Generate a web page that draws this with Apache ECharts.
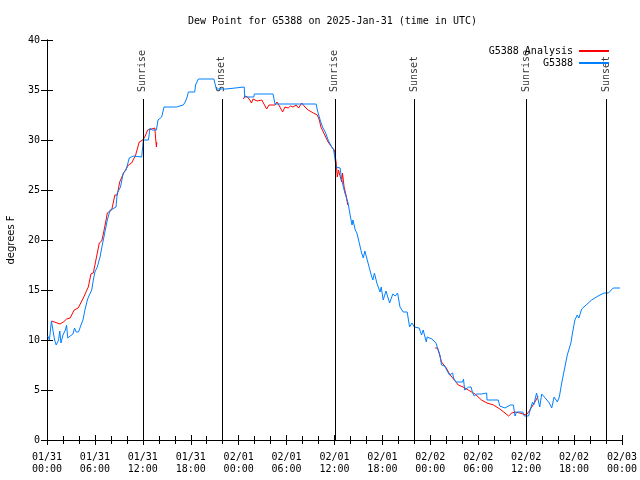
<!DOCTYPE html>
<html>
<head>
<meta charset="utf-8">
<script src="https://cdn.jsdelivr.net/npm/echarts@6/dist/echarts.min.js"></script>
<style>html,body{margin:0;padding:0;background:#fff}#c{width:640px;height:480px}</style>
</head>
<body>
<div id="c"></div>
<script>
// Time axis: hours since 2025-01-31 00:00 UTC
var xTickLabels = ["01/31\n00:00","01/31\n06:00","01/31\n12:00","01/31\n18:00",
  "02/01\n00:00","02/01\n06:00","02/01\n12:00","02/01\n18:00",
  "02/02\n00:00","02/02\n06:00","02/02\n12:00","02/02\n18:00","02/03\n00:00"];
var yTicks = [0,5,10,15,20,25,30,35,40];

// G5388 observations
var obsHours = [0.1,0.3,0.55,0.75,0.95,1.15,1.45,1.6,1.75,2.0,2.3,2.45,2.6,2.9,3.25,3.45,3.65,3.95,4.3,4.5,4.75,4.9,5.05,5.3,5.6,5.8,6.0,6.3,6.64,6.85,7.05,7.3,7.55,7.75,7.9,8.2,8.64,8.8,9.0,9.2,9.55,9.9,10.3,10.8,11.0,11.86,12.06,12.7,12.9,13.2,13.7,13.9,14.36,14.65,16.2,16.4,17.07,17.3,17.55,17.7,18.5,18.6,18.95,20.9,21.2,22.4,22.5,24.7,24.75,25.9,25.96,28.3,28.55,33.7,33.85,34.2,34.5,34.9,35.2,35.65,35.9,36.0,36.2,36.7,36.9,37.3,37.7,38.0,38.2,38.3,38.4,38.6,38.8,39.1,39.4,39.6,39.8,40.2,40.6,40.8,41.0,41.3,41.55,41.7,41.85,42.1,42.45,42.7,42.9,43.1,43.3,43.6,43.9,44.2,44.6,45.1,45.4,45.7,46.0,46.6,46.9,47.1,47.5,47.6,48.2,48.7,48.9,49.2,49.4,49.8,50.05,50.4,50.8,50.9,51.2,52.05,52.15,52.3,52.8,53.1,53.3,53.5,53.8,54.4,55.05,55.1,56.5,56.7,56.9,57.35,57.6,58.0,58.4,58.6,58.8,59.57,59.77,60.3,60.5,60.8,60.95,61.3,61.5,61.7,61.95,62.2,62.6,62.9,63.2,63.5,63.7,63.9,64.15,64.45,64.7,64.95,65.15,65.4,65.6,65.8,66.1,66.4,66.6,66.95,67.5,68.2,69.0,69.75,70.3,70.9,71.75];
var obsDew = [10.4,10.0,11.9,11.8,10.0,9.5,10.0,10.9,9.7,10.5,11.0,11.5,10.2,10.4,10.6,11.2,10.8,10.8,11.6,12.0,13.0,12.9,14.0,14.5,15.0,16.0,16.8,17.3,18.3,19.2,20.0,21.0,22.0,22.0,23.0,23.1,23.3,24.7,25.0,25.3,26.7,27.0,28.2,28.4,28.2,28.3,30.0,30.0,31.2,31.0,31.0,32.0,32.3,33.3,33.3,33.5,33.5,33.8,34.3,34.8,34.8,35.5,36.1,36.1,35.1,35.1,35.3,35.3,34.3,34.3,34.6,34.6,33.6,33.6,33.0,32.0,31.3,30.7,30.0,29.3,29.0,28.8,27.3,27.2,26.0,24.7,23.7,22.3,21.5,22.0,21.7,21.0,20.7,19.7,18.7,18.2,18.9,17.7,16.5,16.0,16.7,15.7,15.5,14.8,15.3,14.0,14.9,14.9,13.7,13.9,14.6,14.4,14.7,13.3,12.8,12.8,11.3,11.7,11.3,11.2,10.5,11.0,9.8,10.3,10.1,9.7,9.2,8.5,7.5,7.4,7.0,6.5,6.7,6.2,5.8,5.8,6.1,5.0,5.3,5.3,4.7,4.4,4.6,4.6,4.7,4.0,4.0,3.4,3.2,3.2,3.4,3.5,3.5,2.4,2.8,2.8,2.4,2.4,3.0,3.8,3.5,4.7,4.0,3.3,4.6,4.4,4.0,3.7,3.2,4.3,4.4,3.8,4.3,5.7,6.7,7.7,8.5,8.3,9.7,10.7,12.0,12.5,12.2,13.1,13.5,14.0,14.4,14.7,14.7,15.2,15.2];

// G5388 Analysis (null = gap)
var anaHours = [0.58,0.8,1.63,2.05,2.46,2.9,3.4,3.9,4.55,4.8,5.17,5.5,5.8,6.2,6.55,6.85,7.05,7.4,7.55,8.1,8.5,8.8,9.1,9.6,10.2,10.6,10.8,11.1,11.55,12.0,12.3,12.6,13.1,13.5,13.6,13.7,13.75,
  19.0,
  24.6,24.8,25.1,25.4,25.6,25.8,26.3,26.5,26.9,27.3,27.5,27.8,28.55,28.8,29.1,29.5,29.8,30.2,30.5,30.8,31.2,31.5,31.9,32.3,32.7,33.35,33.85,34.1,34.3,34.6,34.9,35.2,35.65,35.97,36.2,36.35,36.5,36.9,37.0,37.2,37.5,37.65,
  43.0,
  48.6,48.9,49.1,49.4,50.0,50.4,50.8,51.5,52.1,52.75,53.6,54.4,55.1,55.9,56.7,57.35,57.8,58.2,58.6,59.2,59.98,60.3,60.7,61.1,61.5];
var anaDew = [11.9,11.8,11.6,11.8,12.1,12.2,13.0,13.2,14.2,14.3,15.3,16.6,16.7,18.3,19.7,19.9,20.6,22.0,22.7,23.0,24.5,24.5,25.8,26.7,27.5,27.7,27.5,28.5,29.8,30.0,30.4,31.0,31.1,31.2,30.2,29.3,29.8,
  null,
  34.1,34.4,34.3,34.0,33.7,34.1,33.9,33.7,34.0,33.4,33.1,33.5,33.5,33.8,33.4,32.8,33.3,33.2,33.4,33.3,33.5,33.2,33.7,33.3,33.0,32.7,32.5,32.0,31.3,30.8,30.3,29.8,29.3,29.0,27.8,26.3,27.0,25.8,26.7,25.3,24.3,23.5,
  null,
  9.2,9.2,8.7,7.8,7.2,6.6,6.2,5.5,5.3,5.0,4.6,4.0,3.7,3.5,3.1,2.7,2.4,2.7,2.8,2.7,2.5,2.8,3.3,3.8,4.4];

// Sunrise / sunset (hours)
var sunHours = [12.0,21.9,36.05,45.95,59.98,70.0];
var sunLabels = ["Sunrise","Sunset","Sunrise","Sunset","Sunrise","Sunset"];
var sunLineTop = 34.1;   // vertical line top (degrees)
var sunLabelBase = 34.8; // label starts above line

function zip(a,b){var r=[];for(var i=0;i<a.length;i++)r.push([a[i],b[i]]);return r;}

var MONO = "'DejaVu Sans Mono', monospace";
var markData = [];
var labelPts = [];
for (var i=0;i<sunHours.length;i++){
  markData.push([{coord:[sunHours[i],0]},{coord:[sunHours[i],sunLineTop]}]);
  labelPts.push([sunHours[i], sunLabelBase + sunLabels[i].length*0.3]);
}

var chart = echarts.init(document.getElementById('c'));
var axisLine = {show:true,lineStyle:{color:'#000',width:1}};
chart.setOption({
  animation:false,
  backgroundColor:'#fff',
  title:{text:'Dew Point for G5388 on 2025-Jan-31 (time in UTC)',left:188,top:16,padding:0,
    textStyle:{fontFamily:MONO,fontSize:10,fontWeight:'normal',color:'#000'}},
  legend:{data:['G5388 Analysis','G5388'],orient:'vertical',align:'right',right:30,top:46,padding:0,
    itemWidth:30,itemHeight:12,itemGap:2,itemStyle:{opacity:0},
    textStyle:{fontFamily:MONO,fontSize:10,color:'#000',padding:[0,1,0,0]}},
  grid:{left:47,right:18,top:40,bottom:40,outerBoundsMode:'none',containLabel:false},
  xAxis:[{type:'value',min:0,max:72,interval:6,position:'bottom',
    axisLine:axisLine,
    axisTick:{show:true,inside:true,length:5,lineStyle:{color:'#000'}},
    minorTick:{show:true,splitNumber:3,length:4,lineStyle:{color:'#000'}},
    splitLine:{show:false},
    axisLabel:{formatter:function(v){return xTickLabels[Math.round(v/6)];},
      fontFamily:MONO,fontSize:10,color:'#000',lineHeight:12,margin:11}},
   {type:'value',min:0,max:72,interval:6,position:'top',
    axisLine:axisLine,
    axisTick:{show:true,inside:true,length:5,lineStyle:{color:'#000'}},
    minorTick:{show:true,splitNumber:3,length:4,lineStyle:{color:'#000'}},
    splitLine:{show:false},axisLabel:{show:false}}],
  yAxis:[{type:'value',min:0,max:40,interval:5,position:'left',
    name:'degrees F',nameLocation:'middle',nameGap:31,nameRotate:90,
    nameTextStyle:{fontFamily:"'DejaVu Sans', sans-serif",fontSize:10,color:'#000'},
    axisLine:axisLine,
    axisTick:{show:true,inside:true,length:6,lineStyle:{color:'#000'}},
    splitLine:{show:false},
    axisLabel:{formatter:function(v){return yTicks.indexOf(v)>=0?String(v):'';},
      fontFamily:MONO,fontSize:10,color:'#000',margin:7}},
   {type:'value',min:0,max:40,interval:5,position:'right',
    axisLine:axisLine,
    axisTick:{show:true,inside:true,length:6,lineStyle:{color:'#000'}},
    splitLine:{show:false},axisLabel:{show:false}}],
  series:[
    {name:'G5388 Analysis',type:'line',xAxisIndex:0,yAxisIndex:0,data:zip(anaHours,anaDew),
      showSymbol:false,symbol:'none',connectNulls:false,color:'#ff0000',
      lineStyle:{color:'#ff0000',width:1}},
    {name:'G5388',type:'line',xAxisIndex:0,yAxisIndex:0,data:zip(obsHours,obsDew),
      showSymbol:false,symbol:'none',color:'#0080ff',
      lineStyle:{color:'#0080ff',width:1},
      markLine:{silent:true,symbol:['none','none'],animation:false,
        lineStyle:{color:'#000',width:1,type:'solid'},
        label:{show:false},
        data:markData}},
    {name:'sun',type:'scatter',xAxisIndex:0,yAxisIndex:0,data:labelPts,
      symbolSize:0,silent:true,
      label:{show:true,position:'inside',rotate:90,color:'#000',fontFamily:MONO,fontSize:10,
        formatter:function(p){return sunLabels[p.dataIndex];}}}
  ]
});
</script>
</body>
</html>
